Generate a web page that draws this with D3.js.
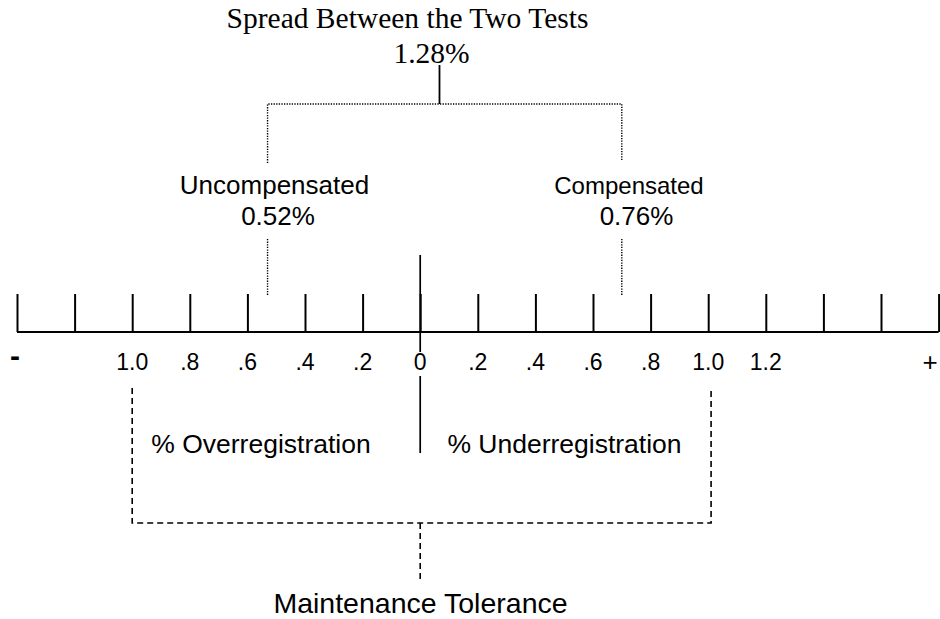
<!DOCTYPE html>
<html>
<head>
<meta charset="utf-8">
<script src="https://cdn.jsdelivr.net/npm/d3@7"></script>
<style>
  html, body { margin: 0; padding: 0; background: #fff; }
  svg { display: block; }
</style>
</head>
<body>
<svg id="chart" width="940" height="619"></svg>
<script>
// ---- data ----
const tickValues = [-1.4, -1.2, -1.0, -0.8, -0.6, -0.4, -0.2, 0, 0.2, 0.4, 0.6, 0.8, 1.0, 1.2, 1.4, 1.6, 1.8];
const tickLabels = ["", "", "1.0", ".8", ".6", ".4", ".2", "0", ".2", ".4", ".6", ".8", "1.0", "1.2", "", "", ""];
const endLabels = ["-", "+"];
const testNames = ["Uncompensated", "Compensated"];
const testValues = ["0.52%", "0.76%"];
const testPositions = [-0.53, 0.70];
const spreadTitle = "Spread Between the Two Tests";
const spreadValue = "1.28%";
const spreadLinePos = 0.067;
const sideLabels = ["% Overregistration", "% Underregistration"];
const toleranceRange = [-1.0, 1.01];
const toleranceLabel = "Maintenance Tolerance";

// ---- drawing ----
const svg = d3.select("#chart");
svg.append("rect").attr("width", 940).attr("height", 619).attr("fill", "#fff");

const x = d3.scaleLinear().domain([-1.4, 1.8]).range([17, 938.6]);
const axisY = 332;
const SANS = "'Liberation Sans', Arial, sans-serif";
const SERIF = "'Liberation Serif', 'Times New Roman', serif";

// axis with upward ticks
const axis = d3.axisTop(x).tickValues(tickValues).tickSize(38).tickSizeOuter(0).tickFormat("");
const ag = svg.append("g").attr("transform", `translate(0,${axisY})`).call(axis);
ag.select(".domain").attr("stroke", "#000").attr("stroke-width", 2)
  .attr("d", `M${x(-1.4)},0H${x(1.8)}`);
ag.selectAll(".tick line").attr("stroke", "#000").attr("stroke-width", 2);

// tick labels
svg.append("g").selectAll("text").data(tickValues.map((v, i) => ({v, t: tickLabels[i]})).filter(d => d.t))
  .join("text")
  .attr("x", d => x(d.v)).attr("y", 369.5)
  .attr("text-anchor", "middle")
  .attr("font-family", SANS).attr("font-size", 23)
  .text(d => d.t);

// end labels
svg.append("text").attr("x", 15).attr("y", 366).attr("text-anchor", "middle")
  .attr("font-family", SANS).attr("font-size", 30).attr("font-weight", "bold").text(endLabels[0]);
svg.append("text").attr("x", 930).attr("y", 371).attr("text-anchor", "middle")
  .attr("font-family", SANS).attr("font-size", 26).text(endLabels[1]);

// center zero line (two segments around the "0" label)
svg.append("line").attr("x1", x(0)).attr("x2", x(0)).attr("y1", 255).attr("y2", 352)
  .attr("stroke", "#000").attr("stroke-width", 1.7);
svg.append("line").attr("x1", x(0)).attr("x2", x(0)).attr("y1", 376).attr("y2", 453)
  .attr("stroke", "#000").attr("stroke-width", 1.7);

// spread title
svg.append("text").attr("x", 407.5).attr("y", 28).attr("text-anchor", "middle")
  .attr("font-family", SERIF).attr("font-size", 29.5).text(spreadTitle);
svg.append("text").attr("x", 431.5).attr("y", 63).attr("text-anchor", "middle")
  .attr("font-family", SERIF).attr("font-size", 29.5).text(spreadValue);

// spread solid connector
const bracketY = 104;
svg.append("line").attr("x1", x(spreadLinePos)).attr("x2", x(spreadLinePos))
  .attr("y1", 65).attr("y2", bracketY).attr("stroke", "#000").attr("stroke-width", 1.8);

// dotted bracket
const dot = {stroke: "#000", "stroke-width": 1.4, "stroke-dasharray": "1.3,1.3", fill: "none"};
function styled(sel, st) { Object.entries(st).forEach(([k, v]) => sel.attr(k, v)); return sel; }
styled(svg.append("path").attr("d",
  `M${x(testPositions[0])},163V${bracketY}H${x(testPositions[1])}V160`), dot);
testPositions.forEach(p => {
  styled(svg.append("line").attr("x1", x(p)).attr("x2", x(p)).attr("y1", 239).attr("y2", 296), dot);
});

// test labels
const nameX = [274.5, 629], valX = [278, 636.5], nameSize = [26, 24];
testNames.forEach((n, i) => {
  svg.append("text").attr("x", nameX[i]).attr("y", 194).attr("text-anchor", "middle")
    .attr("font-family", SANS).attr("font-size", nameSize[i]).text(n);
  svg.append("text").attr("x", valX[i]).attr("y", 225).attr("text-anchor", "middle")
    .attr("font-family", SANS).attr("font-size", 26).text(testValues[i]);
});

// side labels
const sideX = [261, 564.5];
sideLabels.forEach((s, i) => {
  svg.append("text").attr("x", sideX[i]).attr("y", 453).attr("text-anchor", "middle")
    .attr("font-family", SANS).attr("font-size", 26.5).text(s);
});

// dashed tolerance bracket
const dash = {stroke: "#000", "stroke-width": 1.6, "stroke-dasharray": "6,4", fill: "none"};
styled(svg.append("path").attr("d",
  `M${x(toleranceRange[0])},388V523H${x(toleranceRange[1])}V388`), dash);
styled(svg.append("line").attr("x1", x(0)).attr("x2", x(0)).attr("y1", 523).attr("y2", 580), dash);

svg.append("text").attr("x", 420.5).attr("y", 613).attr("text-anchor", "middle")
  .attr("font-family", SANS).attr("font-size", 28.5).text(toleranceLabel);
</script>
</body>
</html>
